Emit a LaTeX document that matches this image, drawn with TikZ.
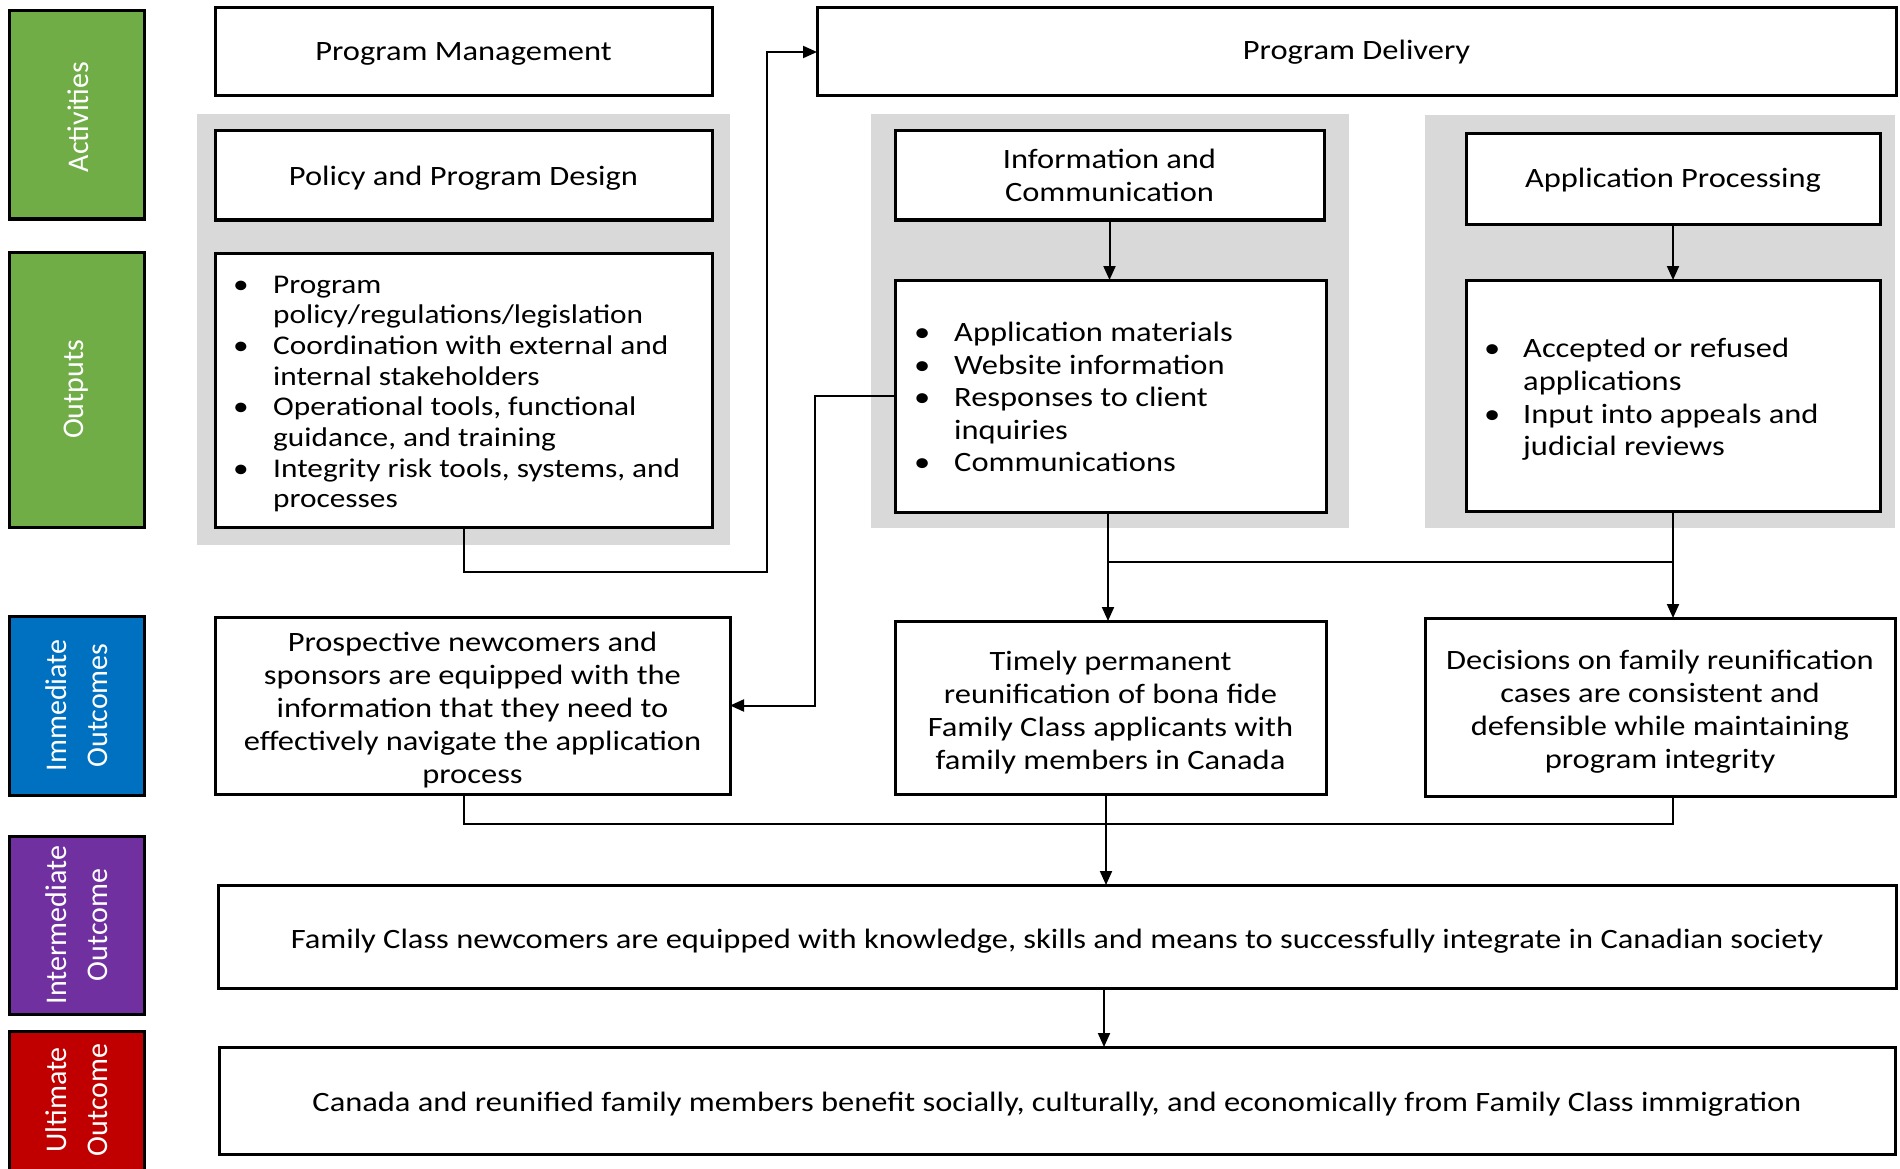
\documentclass[tikz,border=0pt]{standalone}
\usepackage{fontspec}
\setmainfont{Carlito}[FakeStretch=1.16]
\newfontfamily\lblfont{Carlito}
\usetikzlibrary{arrows.meta,calc}
\definecolor{lgreen}{HTML}{70AD47}
\definecolor{lblue}{HTML}{0070C0}
\definecolor{lpurple}{HTML}{7030A0}
\definecolor{lred}{HTML}{C00000}
\definecolor{panelgrey}{HTML}{D9D9D9}
\newcommand\bl{\makebox[36pt][l]{\hspace*{-4pt}\textbullet}}
\newcommand\blb{\makebox[35pt][l]{\hspace*{-4pt}\textbullet}}
\newcommand\ind{\hspace*{36pt}}
\begin{document}
\begin{tikzpicture}[x=1pt,y=-1pt,
  box/.style={draw=black, line width=3pt, fill=white, inner sep=0pt, outer sep=0pt},
  txt/.style={inner sep=0pt, align=center, font=\fontsize{28}{33}\selectfont},
  listtext/.style={anchor=west, inner sep=0pt, align=left, font=\fontsize{28}{32.6}\selectfont},
  lbl/.style={draw=black, line width=3pt, inner sep=0pt, outer sep=0pt, minimum width=135pt},
  lbltext/.style={rotate=90, text=white, inner sep=0pt, align=center, font=\lblfont\fontsize{30}{41}\selectfont},
  conn/.style={line width=2pt},
  arr/.style={conn, -{Triangle[length=14pt,width=12pt]}},
]
\useasboundingbox (0,0) rectangle (1900,1169);
\fill[white] (0,0) rectangle (1900,1169);

% side labels
\node[lbl, fill=lgreen, minimum height=208] (Lact) at (76.5,115) {};
\node[lbltext] (Tact) at (78,117) {Activities};
\node[lbl, fill=lgreen, minimum height=275] (Lout) at (76.5,389.5) {};
\node[lbltext] (Tout) at (Lout.center) {Outputs};
\node[lbl, fill=lblue, minimum height=179] (Limm) at (76.5,705.5) {};
\node[lbltext] (Timm) at (Limm.center) {Immediate\\Outcomes};
\node[lbl, fill=lpurple, minimum height=178] (Lint) at (76.5,925) {};
\node[lbltext] (Tint) at (Lint.center) {Intermediate\\Outcome};
\node[lbl, fill=lred, minimum height=142] (Lult) at (76.5,1102) {};
\node[lbltext] (Tult) at (76.5,1100) {Ultimate\\Outcome};

% grey panels
\fill[panelgrey] (197,114) rectangle (730,545);
\fill[panelgrey] (871,114) rectangle (1349,528);
\fill[panelgrey] (1425,115) rectangle (1895,528);

% activity boxes
\node[box, minimum width=497, minimum height=88] (PM) at (463.5,52) {};
\node[txt] (PMt) at ([yshift=-1.5pt]PM.center) {Program Management};
\node[box, minimum width=1079, minimum height=88] (PD) at (1356.5,52) {};
\node[txt] (PDt) at (PD.center) {Program Delivery};
\node[box, minimum width=497, minimum height=89] (PPD) at (463.5,175.5) {};
\node[txt] (PPDtt) at ([yshift=-2.5pt]PPD.center) {Policy and Program Design};
\node[box, minimum width=429, minimum height=89] (IC) at (1109.5,175.5) {};
\node[txt] (ICtt) at (IC.center) {Information and\\Communication};
\node[box, minimum width=414, minimum height=90] (AP) at (1673,179) {};
\node[txt] (APtt) at ([yshift=-1.5pt]AP.center) {Application Processing};

% output boxes
\node[box, minimum width=497, minimum height=274] (PPDo) at (463.5,390) {};
\node[listtext, font=\fontsize{27}{30.7}\selectfont] (PPDt) at (237,394) {\bl Program\\\ind policy/regulations/legislation\\\bl Coordination with external and\\\ind internal stakeholders\\\bl Operational tools, functional\\\ind guidance, and training\\\bl Integrity risk tools, systems, and\\\ind processes};
\node[box, minimum width=431, minimum height=232] (ICo) at (1110.5,396) {};
\node[listtext] (ICt) at (918,397) {\bl Application materials\\\bl Website information\\\bl Responses to client\\\ind inquiries\\\bl Communications};
\node[box, minimum width=414, minimum height=231] (APo) at (1673,395.5) {};
\node[listtext] (APt) at (1488,399.5) {\blb Accepted or refused\\\hspace*{35pt}applications\\\blb Input into appeals and\\\hspace*{35pt}judicial reviews};

% immediate outcomes
\node[box, minimum width=515, minimum height=177] (Pro) at (472.5,705.5) {};
\node[txt] (Prot) at ([yshift=-5pt]Pro.center) {Prospective newcomers and\\sponsors are equipped with the\\information that they need to\\effectively navigate the application\\process};
\node[box, minimum width=431, minimum height=173] (Tim) at (1110.5,707.5) {};
\node[txt] (Timt) at ([yshift=-5pt]Tim.center) {Timely permanent\\reunification of bona fide\\Family Class applicants with\\family members in Canada};
\node[box, minimum width=470, minimum height=178] (Dec) at (1660,707) {};
\node[txt] (Dect) at ([yshift=-5pt]Dec.center) {Decisions on family reunification\\cases are consistent and\\defensible while maintaining\\program integrity};

% intermediate and ultimate
\node[box, minimum width=1678, minimum height=103] (Int) at (1057,936.5) {};
\node[txt] (Intt) at ([yshift=-5pt]Int.center) {Family Class newcomers are equipped with knowledge, skills and means to successfully integrate in Canadian society};
\node[box, minimum width=1676, minimum height=107] (Ult) at (1057,1100.5) {};
\node[txt] (Ultt) at ([yshift=-4pt]Ult.center) {Canada and reunified family members benefit socially, culturally, and economically from Family Class immigration};

% junction coordinates
\coordinate (j1) at (767,572);
\coordinate (j2) at (815,705.5);
\coordinate (j3) at (1673,562);
\coordinate (j4) at (1673,824);
\coordinate (j5) at (1108,562);

% connectors
\draw[arr] (PPDo.south) |- (j1) |- (PD.west);
\draw[arr] (ICo.west) -| (j2) -- (Pro.east);
\draw[arr] (IC.south) -- (IC.south |- ICo.north);
\draw[arr] (AP.south) -- (APo.north);
\draw[arr] (j5 |- ICo.south) -- (j5 |- Tim.north);
\draw[arr] (APo.south) -- (APo.south |- Dec.north);
\draw[conn] (j5) -- (j3);
\draw[conn] ([xshift=-8.5pt]Pro.south) |- (j4) -- (j4 |- Dec.south);
\draw[arr] ([xshift=-4.5pt]Tim.south) -- ([xshift=-4.5pt]Tim.south |- Int.north);
\draw[arr] ([xshift=-6.5pt]Tim.south |- Int.south) -- ([xshift=-6.5pt]Tim.south |- Ult.north);
\end{tikzpicture}
\end{document}
